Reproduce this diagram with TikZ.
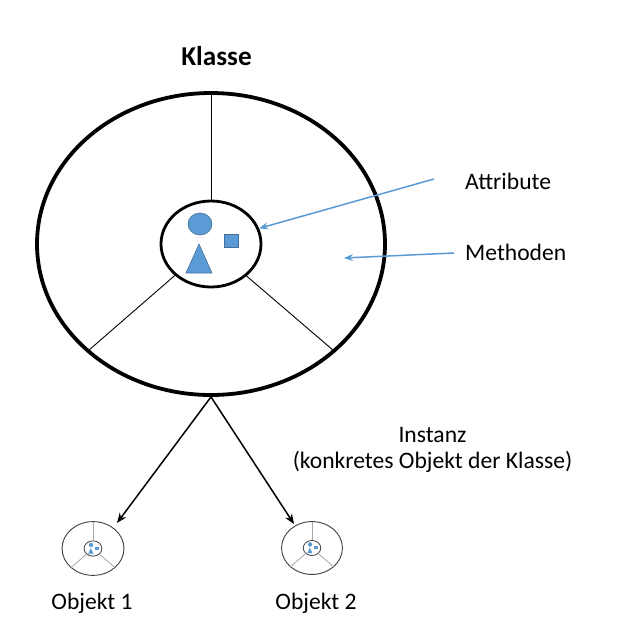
\documentclass[tikz,border=0pt]{standalone}
\usepackage{fontspec}
\setmainfont{Carlito}
\usetikzlibrary{shapes.geometric,arrows.meta}
\definecolor{oblue}{HTML}{5B9BD5}
\definecolor{oblueline}{HTML}{41719C}
\tikzset{
  outerline/.style={draw=black,line width=3.8pt},
  innerline/.style={draw=black,line width=2.8pt},
  radline/.style={draw=black,line width=0.9pt},
  shapeline/.style={draw=oblueline,line width=0.6pt,fill=oblue},
  lbl/.style={font=\fontsize{23.6}{28}\selectfont,inner sep=0pt},
  bluearrow/.style={draw=oblue,line width=1.5pt,-{Stealth[length=9pt,width=7pt]}},
  blackarrow/.style={draw=black,line width=1.5pt,-{Stealth[length=10pt,width=8pt]}},
  pics/classpic/.style={code={
    \node[ellipse,outerline,inner sep=0pt,minimum width=348,minimum height=302] (-outer) at (0,0) {};
    \node[ellipse,innerline,inner sep=0pt,minimum width=100,minimum height=86] (-inner) at (0,0) {};
    \draw[radline] (-outer.north) -- (-inner.north);
    \draw[radline] (-outer.221) -- (-inner.221.6);
    \draw[radline] (-outer.319) -- (-inner.318.4);
    \node[ellipse,shapeline,inner sep=0pt,minimum width=24,minimum height=22] (-circ) at (-11,-20) {};
    \node[rectangle,shapeline,inner sep=0pt,minimum width=14,minimum height=13] (-sq) at (20,-3.5) {};
    \filldraw[shapeline] (-12,0) -- (1,29) -- (-25,29) -- cycle;
  }}
}
\begin{document}
\begin{tikzpicture}[x=1pt,y=-1pt]
\useasboundingbox (0,0) rectangle (620,633);
\fill[white] (0,0) rectangle (620,633);

\pic (klasse) at (211,244) {classpic};

\pic (obj1) [scale=0.178,transform shape,
  outerline/.style={draw=black!75,line width=0.9pt},
  innerline/.style={draw=black!75,line width=0.8pt},
  radline/.style={draw=black!35,line width=0.8pt},
  shapeline/.style={fill=oblue,draw=oblue,line width=0.3pt}] at (93,548.5) {classpic};
\pic (obj2) [scale=0.175,transform shape,
  outerline/.style={draw=black!75,line width=0.9pt},
  innerline/.style={draw=black!75,line width=0.8pt},
  radline/.style={draw=black!35,line width=0.8pt},
  shapeline/.style={fill=oblue,draw=oblue,line width=0.3pt}] at (312,548) {classpic};

\node[lbl,font=\fontsize{27.2}{32}\selectfont\bfseries,anchor=base] (klassetitle) at (216.5,65) {Klasse};
\node[lbl,anchor=base west] (attr) at (465,189) {Attribute};
\node[lbl,anchor=base west] (meth) at (465,260) {Methoden};
\node[lbl,anchor=base] (inst1) at (432.5,442) {Instanz};
\node[lbl,anchor=base] (inst2) at (432.5,468) {(konkretes Objekt der Klasse)};
\node[lbl,anchor=base] (o1lbl) at (92,609) {Objekt 1};
\node[lbl,anchor=base] (o2lbl) at (316,609) {Objekt 2};

\coordinate (attrstart) at (434,179);
\coordinate (methstart) at (454,253);
\coordinate (methend) at (344,258);
\draw[bluearrow] (attrstart) -- (klasse-inner.18);
\draw[bluearrow] (methstart) -- (methend);

\coordinate (a1end) at (117,523);
\coordinate (a2end) at (294,524);
\draw[blackarrow] (klasse-outer.south) -- (a1end);
\draw[blackarrow] (klasse-outer.south) -- (a2end);
\end{tikzpicture}
\end{document}
